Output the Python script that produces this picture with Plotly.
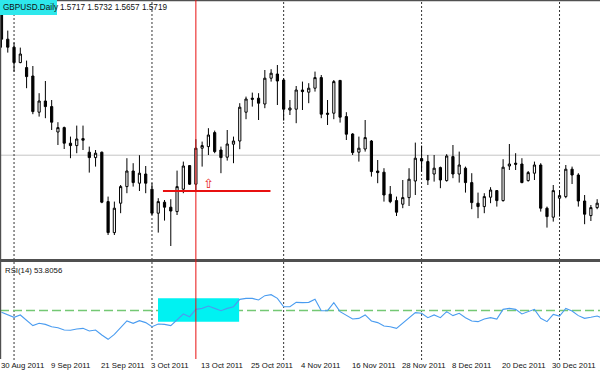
import plotly.graph_objects as go

# ---------------- data ----------------
opens = [1.6470, 1.6299, 1.6259, 1.6182, 1.6157, 1.6115, 1.5934, 1.5990, 1.5962, 1.5835,
         1.5857, 1.5779, 1.5767, 1.5802, 1.5734, 1.5707, 1.5734, 1.5487, 1.5332, 1.5479,
         1.5562, 1.5640, 1.5579, 1.5625, 1.5549, 1.5429, 1.5484, 1.5459, 1.5437, 1.5549,
         1.5667, 1.5574, 1.5754, 1.5762, 1.5832, 1.5745, 1.5709, 1.5774, 1.5790, 1.5934,
         1.6004, 1.6004, 1.5975, 1.6104, 1.6125, 1.6095, 1.5945, 1.5949, 1.6045, 1.6034,
         1.6054, 1.6107, 1.5929, 1.5929, 1.6093, 1.5912, 1.5825, 1.5734, 1.5750, 1.5790,
         1.5640, 1.5634, 1.5524, 1.5492, 1.5474, 1.5507, 1.5590, 1.5702, 1.5687, 1.5625,
         1.5657, 1.5592, 1.5712, 1.5625, 1.5654, 1.5582, 1.5479, 1.5462, 1.5509, 1.5542,
         1.5492, 1.5665, 1.5679, 1.5675, 1.5592, 1.5629, 1.5670, 1.5454, 1.5409, 1.5504,
         1.5512, 1.5649, 1.5620, 1.5490, 1.5417, 1.5457]
highs = [1.6545, 1.6342, 1.6282, 1.6257, 1.6192, 1.6165, 1.6029, 1.6090, 1.5995, 1.5884,
         1.5862, 1.5812, 1.5867, 1.5867, 1.5762, 1.5745, 1.5737, 1.5512, 1.5487, 1.5570,
         1.5704, 1.5679, 1.5719, 1.5665, 1.5579, 1.5504, 1.5495, 1.5499, 1.5642, 1.5687,
         1.5670, 1.5799, 1.5787, 1.5854, 1.5842, 1.5762, 1.5845, 1.5812, 1.5979, 1.6012,
         1.6032, 1.6029, 1.6145, 1.6149, 1.6170, 1.6104, 1.5995, 1.6065, 1.6087, 1.6079,
         1.6137, 1.6120, 1.5995, 1.6095, 1.6095, 1.5934, 1.5829, 1.5812, 1.5895, 1.5795,
         1.5695, 1.5654, 1.5565, 1.5512, 1.5595, 1.5654, 1.5782, 1.5767, 1.5720, 1.5720,
         1.5662, 1.5724, 1.5770, 1.5737, 1.5662, 1.5629, 1.5532, 1.5529, 1.5559, 1.5545,
         1.5699, 1.5775, 1.5729, 1.5704, 1.5640, 1.5687, 1.5679, 1.5462, 1.5570, 1.5545,
         1.5670, 1.5662, 1.5629, 1.5520, 1.5470, 1.5499]
lows = [1.6257, 1.6232, 1.6137, 1.6179, 1.6054, 1.5924, 1.5912, 1.5904, 1.5845, 1.5770,
        1.5750, 1.5704, 1.5729, 1.5745, 1.5632, 1.5662, 1.5479, 1.5320, 1.5320, 1.5429,
        1.5529, 1.5562, 1.5540, 1.5529, 1.5420, 1.5332, 1.5392, 1.5265, 1.5420, 1.5529,
        1.5570, 1.5537, 1.5662, 1.5720, 1.5729, 1.5629, 1.5692, 1.5679, 1.5749, 1.5899,
        1.5962, 1.5895, 1.5954, 1.6087, 1.5970, 1.5892, 1.5920, 1.5879, 1.5945, 1.5979,
        1.6037, 1.5904, 1.5870, 1.5899, 1.5882, 1.5795, 1.5720, 1.5687, 1.5737, 1.5612,
        1.5579, 1.5487, 1.5479, 1.5415, 1.5454, 1.5465, 1.5520, 1.5637, 1.5570, 1.5587,
        1.5554, 1.5587, 1.5604, 1.5582, 1.5532, 1.5449, 1.5404, 1.5429, 1.5479, 1.5462,
        1.5487, 1.5645, 1.5645, 1.5579, 1.5587, 1.5595, 1.5437, 1.5357, 1.5387, 1.5412,
        1.5504, 1.5575, 1.5462, 1.5374, 1.5390, 1.5449]
closes = [1.6299, 1.6259, 1.6182, 1.6225, 1.6112, 1.5937, 1.5990, 1.5962, 1.5884, 1.5857,
          1.5779, 1.5767, 1.5800, 1.5794, 1.5707, 1.5729, 1.5484, 1.5332, 1.5454, 1.5562,
          1.5640, 1.5582, 1.5629, 1.5579, 1.5429, 1.5487, 1.5459, 1.5440, 1.5562, 1.5665,
          1.5574, 1.5754, 1.5767, 1.5820, 1.5737, 1.5707, 1.5775, 1.5790, 1.5959, 1.6000,
          1.5999, 1.5979, 1.6104, 1.6129, 1.6090, 1.5949, 1.5955, 1.6045, 1.6037, 1.6054,
          1.6107, 1.5924, 1.5924, 1.6087, 1.5909, 1.5824, 1.5732, 1.5754, 1.5807, 1.5637,
          1.5632, 1.5520, 1.5487, 1.5434, 1.5507, 1.5599, 1.5704, 1.5690, 1.5595, 1.5654,
          1.5595, 1.5715, 1.5625, 1.5670, 1.5582, 1.5482, 1.5462, 1.5512, 1.5545, 1.5492,
          1.5659, 1.5675, 1.5674, 1.5582, 1.5632, 1.5670, 1.5454, 1.5412, 1.5542, 1.5517,
          1.5649, 1.5620, 1.5490, 1.5424, 1.5457, 1.5479]

rsi = [48.1, 45.7, 43.0, 45.4, 40.2, 34.4, 36.8, 35.7, 33.3, 32.3,
       29.9, 29.6, 30.9, 31.6, 28.9, 29.9, 24.7, 20.3, 25.4, 32.3,
       39.2, 36.8, 39.5, 37.5, 33.3, 36.1, 35.7, 34.4, 40.2, 46.4,
       43.6, 51.2, 52.2, 54.6, 52.2, 49.8, 52.2, 53.9, 61.5, 62.5,
       62.5, 60.8, 65.3, 66.3, 62.5, 53.9, 53.9, 58.4, 58.1, 58.4,
       61.5, 49.8, 49.8, 58.1, 48.8, 45.4, 41.2, 41.9, 45.4, 39.2,
       37.5, 34.0, 33.3, 31.6, 36.8, 41.9, 47.8, 47.1, 42.6, 45.4,
       42.6, 48.8, 44.7, 47.1, 42.6, 39.2, 38.5, 41.2, 42.6, 41.2,
       51.2, 52.2, 51.2, 46.4, 48.8, 51.2, 41.9, 38.5, 46.0, 44.3,
       52.2, 49.5, 44.7, 41.9, 43.0, 44.3, 41.9]

tick_labels = ["30 Aug 2011", "9 Sep 2011", "21 Sep 2011", "3 Oct 2011", "13 Oct 2011",
               "25 Oct 2011", "4 Nov 2011", "16 Nov 2011", "28 Nov 2011", "8 Dec 2011",
               "20 Dec 2011", "30 Dec 2011"]
tick_bars = [0, 8, 16, 24, 32, 40, 48, 56, 64, 72, 80, 88]
month_start_bars = [2, 24, 45, 67, 89]

symbol = "GBPUSD.Daily"
last_ohlc = "1.5717 1.5732 1.5657 1.5719"
bid_price = 1.5719
rsi_label = "RSI(14) 53.8056"
rsi_level = 50
cursor_bar = 31
hline_price = 1.5540
hline_bars = (25.75, 42.9)
arrow_bar = 33
arrow_price = 1.5576
box_bars = (24.96, 37.9)
box_rsi = (38.5, 62.5)

# ---------------- figure ----------------
W, H = 600, 374
def fx(px):
    return px / W
def fy(py):
    return 1 - py / H

bars = list(range(len(closes)))
fig = go.Figure()
fig.add_trace(go.Candlestick(
    x=bars, open=opens, high=highs, low=lows, close=closes,
    increasing=dict(fillcolor="white", line=dict(color="black", width=1)),
    decreasing=dict(fillcolor="black", line=dict(color="black", width=1)),
    whiskerwidth=0, xaxis="x", yaxis="y", showlegend=False, hoverinfo="skip"))
fig.add_trace(go.Scatter(
    x=list(range(len(rsi))), y=rsi, mode="lines",
    line=dict(color="#4a9cf0", width=1.1), xaxis="x", yaxis="y2",
    showlegend=False, hoverinfo="skip"))

shapes = []
shapes.append(dict(type="rect", xref="x", yref="y2", x0=box_bars[0], x1=box_bars[1],
                   y0=box_rsi[0], y1=box_rsi[1], fillcolor="#00f2f2",
                   line=dict(width=0), layer="below"))
shapes.append(dict(type="line", xref="paper", yref="y", x0=0, x1=1, y0=bid_price, y1=bid_price,
                   line=dict(color="#c4c4c4", width=1), layer="below"))
for b in month_start_bars:
    shapes.append(dict(type="line", xref="x", yref="paper", x0=b, x1=b, y0=fy(360), y1=1,
                       line=dict(color="#333333", width=1, dash="2px,2px"), layer="below"))
shapes.append(dict(type="line", xref="paper", yref="y2", x0=0, x1=1, y0=rsi_level, y1=rsi_level,
                   line=dict(color="#74c874", width=1.6, dash="9px,4px"), layer="below"))
shapes.append(dict(type="rect", xref="paper", yref="paper", x0=0, x1=1, y0=fy(1.3), y1=1,
                   fillcolor="#505050", line=dict(width=0)))
shapes.append(dict(type="rect", xref="paper", yref="paper", x0=0, x1=1, y0=fy(262), y1=fy(259),
                   fillcolor="#505050", line=dict(width=0)))
shapes.append(dict(type="rect", xref="paper", yref="paper", x0=0, x1=fx(1.2), y0=fy(359), y1=1,
                   fillcolor="#505050", line=dict(width=0)))
shapes.append(dict(type="line", xref="x", yref="paper", x0=cursor_bar, x1=cursor_bar,
                   y0=fy(359), y1=1, line=dict(color="#e81010", width=1)))
shapes.append(dict(type="line", xref="x", yref="y", x0=hline_bars[0], x1=hline_bars[1],
                   y0=hline_price, y1=hline_price, line=dict(color="#e81010", width=2)))
shapes.append(dict(type="rect", xref="paper", yref="paper", x0=0, x1=fx(57), y0=fy(15), y1=1,
                   fillcolor="#2ee8ec", line=dict(width=0)))

font = dict(family="Liberation Sans, Arial, sans-serif", size=7.8, color="#111111")
hfont = dict(family="Liberation Sans, Arial, sans-serif", size=8.2, color="#111111")
ann = []
ann.append(dict(text=symbol, xref="paper", yref="paper", x=fx(1), y=fy(7.5),
                xanchor="left", yanchor="middle", showarrow=False, font=hfont))
ann.append(dict(text=last_ohlc, xref="paper", yref="paper", x=fx(58), y=fy(7.5),
                xanchor="left", yanchor="middle", showarrow=False, font=hfont))
ann.append(dict(text=rsi_label, xref="paper", yref="paper", x=fx(3), y=fy(270),
                xanchor="left", yanchor="middle", showarrow=False, font=font))
for lab, b in zip(tick_labels, tick_bars):
    ann.append(dict(text=lab, xref="x", yref="paper", x=b, y=fy(365), xshift=-3,
                    xanchor="left", yanchor="middle", showarrow=False, font=font))
ann.append(dict(text="⇧", xref="x", yref="y", x=arrow_bar, y=arrow_price,
                xanchor="center", yanchor="middle", showarrow=False,
                font=dict(family="DejaVu Sans", size=13, color="#e82020")))

fig.update_layout(
    width=W, height=H, margin=dict(l=0, r=0, t=0, b=0),
    paper_bgcolor="white", plot_bgcolor="white",
    boxgap=0.5,
    xaxis=dict(range=[(0 - 1.5) / 6.27, (600 - 1.5) / 6.27], visible=False,
               rangeslider=dict(visible=False), fixedrange=True),
    yaxis=dict(domain=[fy(259), 1], range=[1.6495 - 259 * 0.0005, 1.6495], visible=False),
    yaxis2=dict(domain=[fy(359), fy(262)], range=[0, 100], visible=False),
    shapes=shapes, annotations=ann, showlegend=False)

fig.write_html("out.html")
